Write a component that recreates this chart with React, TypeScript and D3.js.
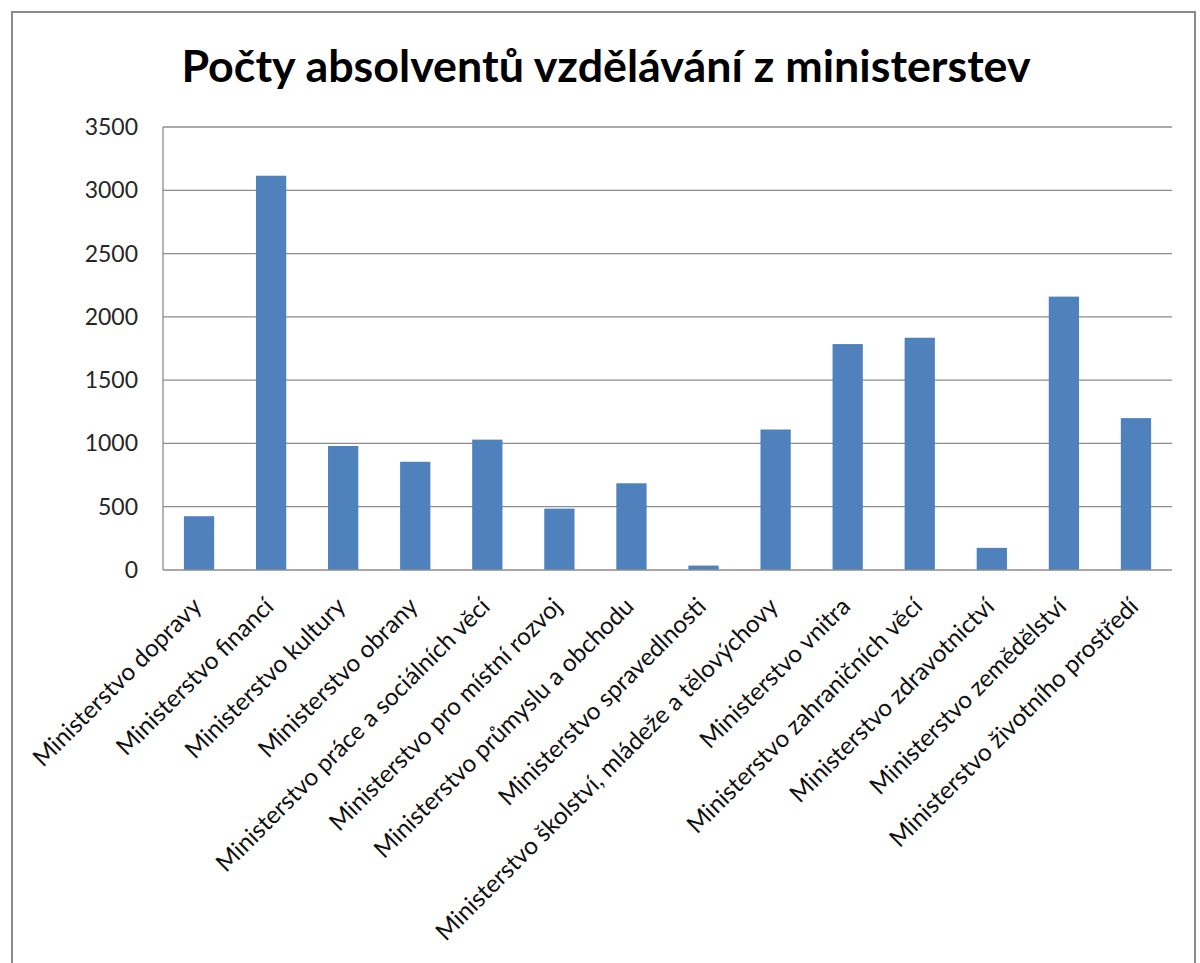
import React from "react";
import * as d3 from "d3";

const categories = [
  "Ministerstvo dopravy",
  "Ministerstvo financí",
  "Ministerstvo kultury",
  "Ministerstvo obrany",
  "Ministerstvo práce a sociálních věcí",
  "Ministerstvo pro místní rozvoj",
  "Ministerstvo průmyslu a obchodu",
  "Ministerstvo spravedlnosti",
  "Ministerstvo školství, mládeže a tělovýchovy",
  "Ministerstvo vnitra",
  "Ministerstvo zahraničních věcí",
  "Ministerstvo zdravotnictví",
  "Ministerstvo zemědělství",
  "Ministerstvo životního prostředí",
];
const values = [425, 3115, 980, 855, 1030, 485, 685, 35, 1110, 1785, 1835, 175, 2160, 1200];
const yTicks = [0, 500, 1000, 1500, 2000, 2500, 3000, 3500];
const title = "Počty absolventů vzdělávání z ministerstev";

const W = 1200;
const H = 963;
const FONT = "Lato, 'Open Sans', sans-serif";

export default function App() {
  const left = 163;
  const right = 1172;
  const top = 127;
  const bottom = 570;
  const x = d3.scaleBand<string>().domain(categories).range([left, right]).paddingInner(0.58).paddingOuter(0.29);
  const y = d3.scaleLinear().domain([0, 3500]).range([bottom, top]);

  return (
    <svg width={W} height={H} style={{ position: "absolute", left: 0, top: 0, background: "#fff" }}>
      <rect x={0} y={0} width={W} height={H} fill="#fff" />
      <rect x={12} y={12} width={1183} height={980} fill="#fff" stroke="#8a8a8a" strokeWidth={2} />
      <text x={606} y={82} textAnchor="middle" fontFamily={FONT} fontWeight={700} fontSize={44.8} fill="#000">
        {title}
      </text>
      {yTicks.map((t) => (
        <g key={t}>
          {t > 0 && (
            <line x1={left} x2={right} y1={y(t)} y2={y(t)} stroke="#8c8c8c" strokeWidth={1.3} />
          )}
          <text x={138} y={y(t)} dy="0.35em" textAnchor="end" fontFamily={FONT} fontSize={23} fill="#262626">
            {t}
          </text>
        </g>
      ))}
      {categories.map((c, i) => (
        <rect key={c} x={x(c)} y={y(values[i])} width={x.bandwidth()} height={bottom - y(values[i])} fill="#4f81bd" />
      ))}
      <line x1={left} x2={left} y1={top} y2={bottom} stroke="#8c8c8c" strokeWidth={1.3} />
      <line x1={left} x2={right} y1={bottom} y2={bottom} stroke="#8c8c8c" strokeWidth={1.3} />
      {categories.map((c) => {
        const cx = (x(c) as number) + x.bandwidth() / 2 + 4;
        const cy = 608;
        return (
          <text
            key={"l" + c}
            x={cx}
            y={cy}
            textAnchor="end"
            transform={`rotate(-45, ${cx}, ${cy})`}
            fontFamily={FONT}
            fontSize={24.3}
            fill="#111"
          >
            {c}
          </text>
        );
      })}
    </svg>
  );
}
